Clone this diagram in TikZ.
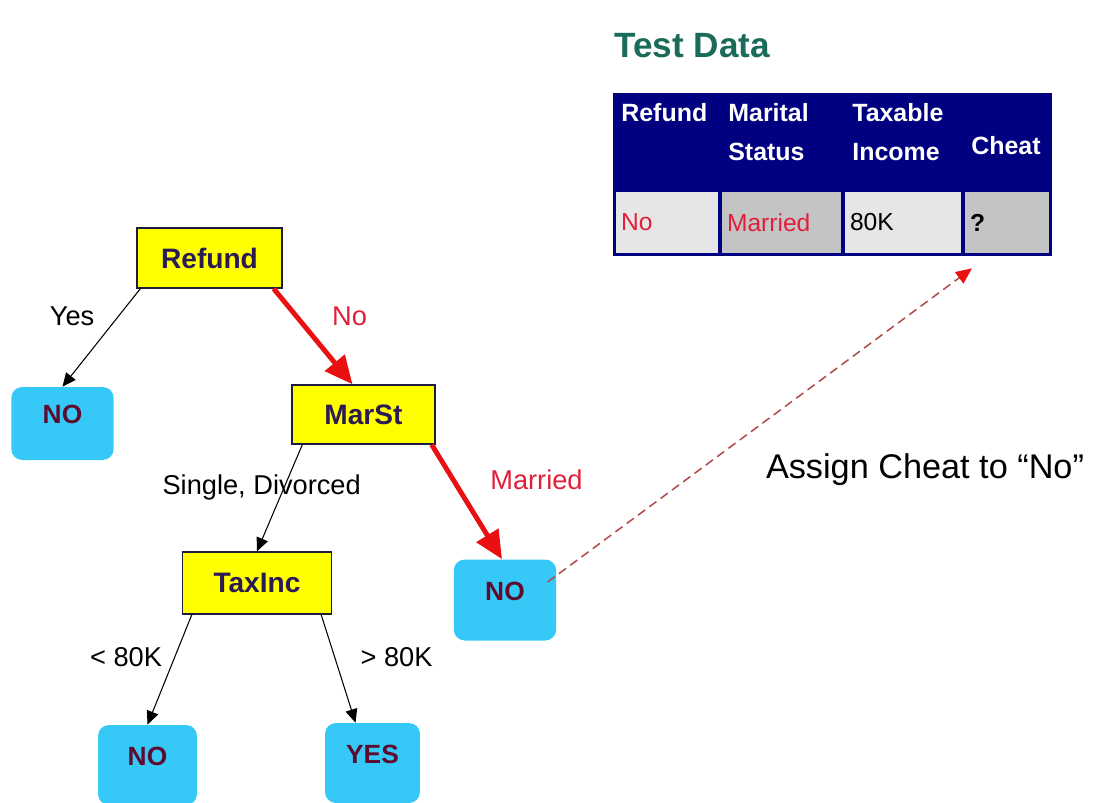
\documentclass[tikz,border=0pt]{standalone}
\usepackage{fontspec}
\setmainfont{Liberation Sans}
\usetikzlibrary{arrows.meta,calc}

\definecolor{boxyellow}{HTML}{FFFF00}
\definecolor{boxline}{HTML}{1C1C3C}
\definecolor{testtext}{HTML}{2A1B55}
\definecolor{leafblue}{HTML}{36C9F7}
\definecolor{leaftext}{HTML}{5E0B30}
\definecolor{pathred}{HTML}{E81010}
\definecolor{labelred}{HTML}{E0203A}
\definecolor{dashred}{HTML}{B04848}
\definecolor{headnavy}{HTML}{000080}
\definecolor{titlegreen}{HTML}{1B6B5A}
\definecolor{cellpale}{HTML}{E6E6E6}
\definecolor{cellgray}{HTML}{C4C4C4}

\begin{document}
\begin{tikzpicture}[x=0.02cm, y=-0.02cm,
  testbox/.style={draw=boxline, line width=0.8pt, fill=boxyellow, minimum width=2.9cm, minimum height=1.2cm, text=testtext, font=\fontsize{16}{19}\selectfont\bfseries},
  leafbox/.style={fill=leafblue, rounded corners=0.22cm, minimum width=2.05cm, minimum height=1.5cm, text depth=0.36cm, text=leaftext, font=\fontsize{15}{18}\selectfont\bfseries},
  branch/.style={-{Triangle[length=0.27cm, width=0.24cm]}, line width=0.6pt},
  taken/.style={-{Triangle[length=0.56cm, width=0.5cm]}, line width=2.8pt, draw=pathred},
  lbl/.style={font=\fontsize{15.5}{18}\selectfont},
  head/.style={anchor=west, align=left, text=white, inner sep=0pt, font=\fontsize{14.2}{22.2}\selectfont\bfseries},
  cell/.style={inner xsep=0.1cm, inner ysep=0pt, minimum height=1.22cm, align=left, font=\fontsize{14}{17}\selectfont}]
  \useasboundingbox (0,0) rectangle (1096,802);

  % test record
  \node[anchor=west, inner sep=0pt, text=titlegreen, font=\fontsize{20}{24}\selectfont\bfseries] (title) at (614,46) {Test Data};
  \fill[headnavy] (613,93) rectangle (1052,256);
  \node[head] (hRefund) at (621,113) {Refund};
  \node[head] (hMarital) at (728,132.5) {Marital\\Status};
  \node[head] (hIncome) at (852,132.5) {Taxable\\Income};
  \node[head] (hCheat) at (971,146) {Cheat};
  \node[cell, fill=cellpale, text width=1.84cm, text=labelred] (cRefund) at (667,222.5) {No};
  \node[cell, fill=cellgray, text width=2.18cm, text=labelred] (cMarital) at (781.5,222.5) {Married};
  \node[cell, fill=cellpale, text width=2.12cm] (cIncome) at (903,222.5) {80K};
  \node[cell, fill=cellgray, text width=1.48cm, font=\fontsize{14}{17}\selectfont\bfseries] (cCheat) at (1007,222.5) {?};

  % tree
  \node[testbox] (refund) at (209.5,258) {Refund};
  \node[testbox, minimum width=2.86cm, minimum height=1.18cm] (marst) at (363.5,414.5) {MarSt};
  \node[testbox, minimum width=2.98cm, minimum height=1.24cm] (taxinc) at (257,583) {TaxInc};
  \node[leafbox, minimum height=1.46cm] (noA) at (62.5,423.5) {NO};
  \node[leafbox, minimum height=1.62cm] (noB) at (505,600) {NO};
  \node[leafbox, minimum width=1.98cm, minimum height=1.6cm] (noC) at (147.5,765) {NO};
  \node[leafbox, minimum width=1.9cm, minimum height=1.6cm] (yes) at (372.5,763) {YES};

  \draw[branch] ($(refund.south west)+(4,0)$) -- (noA.north) node[lbl, pos=0.28, xshift=-0.93cm] (lYes) {Yes};
  \draw[taken] ($(refund.south east)+(-9,0)$) -- ($(marst.north)+(-11,0)$) node[lbl, text=labelred, pos=0.29, xshift=1.06cm] (lNo) {No};
  \draw[branch] ($(marst.south west)+(11,0)$) -- (taxinc.north) node[lbl, pos=0.4, xshift=-0.45cm] (lSingle) {Single, Divorced};
  \draw[taken] ($(marst.south east)+(-4,0)$) -- ($(noB.north)+(-3,0)$) node[lbl, text=labelred, pos=0.31, xshift=1.66cm] (lMarried) {Married};
  \draw[branch] ($(taxinc.south west)+(10,0)$) -- (noC.north) node[lbl, pos=0.39, xshift=-0.97cm] (lLow) {< 80K};
  \draw[branch] ($(taxinc.south east)+(-11,0)$) -- ($(yes.north)+(-17,0)$) node[lbl, pos=0.39, xshift=1.24cm] (lHigh) {> 80K};

  \node[font=\fontsize{19.5}{23}\selectfont] (assign) at (925,470) {Assign Cheat to “No”};
  \coordinate (tip) at ($(cCheat.south)+(-35,15)$);
  \draw[dashred, line width=0.85pt, dash pattern=on 5pt off 3pt, -{Triangle[length=0.32cm, width=0.28cm, color=pathred]}] ($(noB.east)+(-9,-18)$) -- (tip);
\end{tikzpicture}
\end{document}
